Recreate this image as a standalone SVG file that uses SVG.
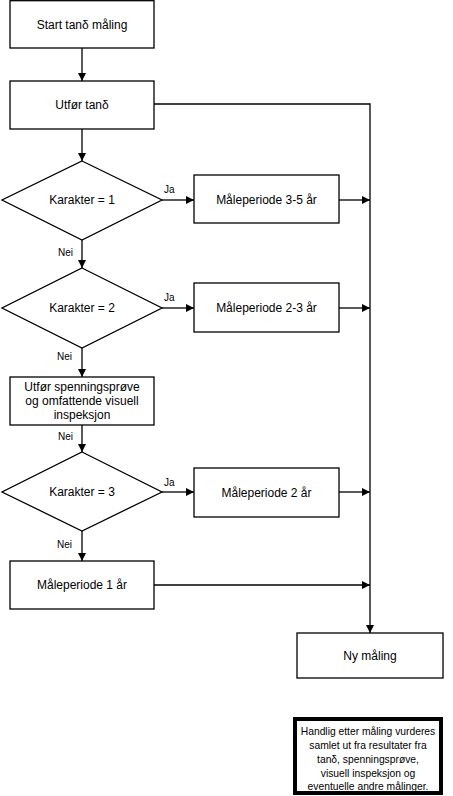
<svg xmlns="http://www.w3.org/2000/svg" width="453" height="796" viewBox="0 0 453 796">
<style>
.b{fill:#fff;stroke:#000;stroke-width:1.3}
.t{font-family:"Liberation Sans",Arial,sans-serif;font-size:12px;fill:#000;text-anchor:middle;dominant-baseline:central}
.s{font-family:"Liberation Sans",Arial,sans-serif;font-size:10px;fill:#000}
.n{font-family:"Liberation Sans",Arial,sans-serif;font-size:10.3px;fill:#000;text-anchor:middle;dominant-baseline:central}
.c{fill:none;stroke:#000;stroke-width:1.3}
</style>
<defs>
<marker id="ah" viewBox="0 0 10 10" refX="10" refY="5" markerWidth="8" markerHeight="8" markerUnits="userSpaceOnUse" orient="auto"><path d="M0,0 L10,5 L0,10 z" fill="#000"/></marker>
</defs>
<g id="connectors">
<path class="c" d="M82,48 V81" marker-end="url(#ah)"/>
<path class="c" d="M82,129 V161" marker-end="url(#ah)"/>
<path class="c" d="M154,104 H370 V633" marker-end="url(#ah)"/>
<path class="c" d="M162,200 H194" marker-end="url(#ah)"/>
<path class="c" d="M339,200 H370" marker-end="url(#ah)"/>
<path class="c" d="M82,240 V268" marker-end="url(#ah)"/>
<path class="c" d="M162,308 H194" marker-end="url(#ah)"/>
<path class="c" d="M339,308 H370" marker-end="url(#ah)"/>
<path class="c" d="M82,348 V377" marker-end="url(#ah)"/>
<path class="c" d="M82,425 V452" marker-end="url(#ah)"/>
<path class="c" d="M162,492 H194" marker-end="url(#ah)"/>
<path class="c" d="M339,492 H370" marker-end="url(#ah)"/>
<path class="c" d="M82,531 V561" marker-end="url(#ah)"/>
<path class="c" d="M154,585 H370" marker-end="url(#ah)"/>
<text class="s" x="164" y="193">Ja</text>
<text class="s" x="58" y="256">Nei</text>
<text class="s" x="164" y="301">Ja</text>
<text class="s" x="57" y="360">Nei</text>
<text class="s" x="58" y="440">Nei</text>
<text class="s" x="164" y="486">Ja</text>
<text class="s" x="57" y="548">Nei</text>
</g>
<g id="start"><rect class="b" x="10" y="0.7" width="144" height="47.3"/><text class="t" x="82" y="25">Start tanδ måling</text></g>
<g id="utfor"><rect class="b" x="10" y="81" width="144" height="48"/><text class="t" x="82" y="105">Utfør tanδ</text></g>
<g id="k1"><polygon class="b" points="82,161 162,200 82,240 2,200"/><text class="t" x="82" y="200">Karakter = 1</text></g>
<g id="m35"><rect class="b" x="194" y="175" width="145" height="48"/><text class="t" x="266.5" y="200">Måleperiode 3-5 år</text></g>
<g id="k2"><polygon class="b" points="82,268 162,308 82,348 2,308"/><text class="t" x="82" y="308">Karakter = 2</text></g>
<g id="m23"><rect class="b" x="194" y="283" width="145" height="49"/><text class="t" x="266.5" y="308">Måleperiode 2-3 år</text></g>
<g id="spenning"><rect class="b" x="10" y="377" width="144" height="48"/><text class="t" x="82" y="387">Utfør spenningsprøve</text><text class="t" x="82" y="401">og omfattende visuell</text><text class="t" x="82" y="415">inspeksjon</text></g>
<g id="k3"><polygon class="b" points="82,452 162,492 82,531 2,492"/><text class="t" x="82" y="492">Karakter = 3</text></g>
<g id="m2"><rect class="b" x="194" y="468" width="145" height="49"/><text class="t" x="266.5" y="493">Måleperiode 2 år</text></g>
<g id="m1"><rect class="b" x="10" y="561" width="144" height="48"/><text class="t" x="82" y="585">Måleperiode 1 år</text></g>
<g id="ny"><rect class="b" x="297" y="633" width="146" height="45"/><text class="t" x="370" y="656">Ny måling</text></g>
<g id="note"><rect x="295" y="719" width="146" height="74" fill="#fff" stroke="#000" stroke-width="4"/>
<text class="n" x="368" y="731">Handlig etter måling vurderes</text>
<text class="n" x="368" y="745">samlet ut fra resultater fra</text>
<text class="n" x="368" y="759">tanδ, spenningsprøve,</text>
<text class="n" x="368" y="773">visuell inspeksjon og</text>
<text class="n" x="368" y="786">eventuelle andre målinger.</text></g>
</svg>
